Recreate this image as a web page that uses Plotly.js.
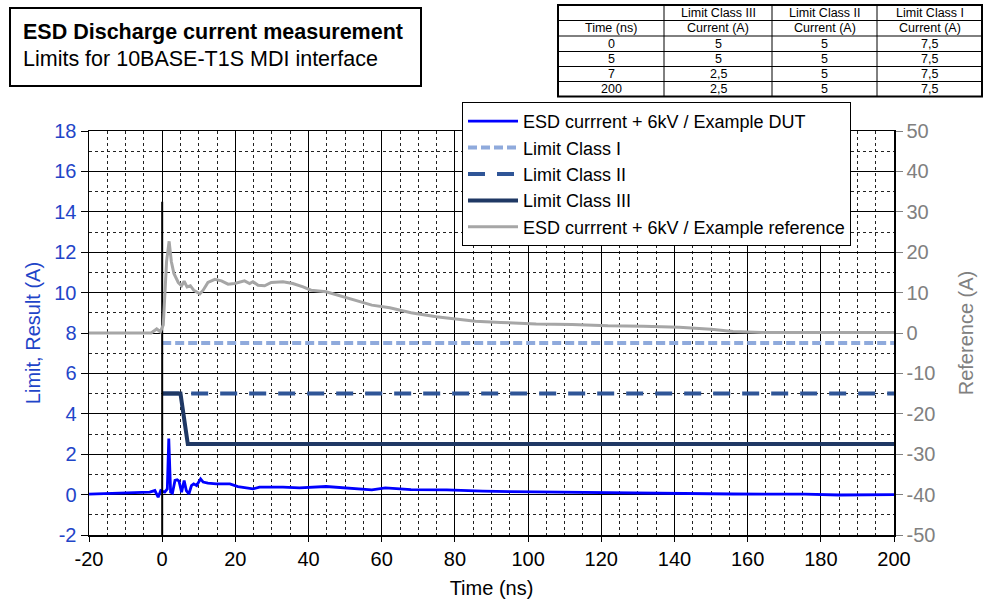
<!DOCTYPE html>
<html>
<head>
<meta charset="utf-8">
<script src="https://cdn.plot.ly/plotly-3.0.1.min.js"></script>
<style>html,body{margin:0;padding:0;background:#fff;}#chart{width:985px;height:609px;}</style>
</head>
<body>
<div id="chart"></div>
<script>
// ---- Data ----
const dutTime = [-20, -3.4, -2, -1.1, -0.4, 0.7, 1.4, 1.8, 2.3, 2.8, 3.5, 4.1, 4.6, 5.3, 6, 6.6, 7.3, 8, 8.6, 9.4, 10.5, 11.2, 12.5, 14.8, 18.5, 20.7, 24.8, 26.6, 33, 37.5, 44.8, 51.2, 57.3, 61, 68, 77.8, 87.6, 102, 117, 131.5, 146, 156, 175.5, 185, 200];
const dutCurrent = [0.02, 0.12, 0.2, -0.13, 0.2, 0.12, 0.28, 2.78, 0.12, 0.07, 0.7, 0.73, 0.67, 0.12, 0.7, 0.2, 0.03, 0.45, 0.53, 0.45, 0.78, 0.62, 0.57, 0.53, 0.53, 0.4, 0.28, 0.37, 0.37, 0.33, 0.4, 0.33, 0.23, 0.33, 0.25, 0.23, 0.17, 0.13, 0.1, 0.07, 0.05, 0.03, 0.02, -0.02, 0.0];

const refTime = [-20, -3, -1.5, -0.5, 0.3, 0.7, 1.2, 1.9, 2.5, 3.2, 4.4, 5.3, 6, 6.8, 7.7, 8.6, 10.3, 11.2, 12.5, 14.4, 16.2, 18, 19.8, 22.5, 23.9, 24.8, 26.2, 28, 29.8, 33, 35.7, 38.5, 40.7, 44.8, 47.5, 51.2, 57.3, 62.2, 68, 74.9, 81.7, 85.6, 92.5, 102.2, 112, 121.8, 131.5, 141.3, 150, 156, 163.8, 175.5, 200];
const refCurrent = [0, 0, 1, 0.3, 2, 9.3, 17.7, 22.7, 17.7, 14.75, 12.5, 11.7, 12.8, 11.4, 11.7, 10.6, 9.7, 10.6, 12.5, 13.3, 12.9, 12.1, 12.25, 12.9, 12.25, 12.7, 11.8, 11.7, 12.5, 12.7, 12.25, 11.4, 10.6, 10.2, 9.5, 8.5, 6.9, 6.25, 5, 4, 3.3, 2.9, 2.6, 2.25, 2.1, 1.8, 1.7, 1.4, 0.9, 0.4, 0.15, 0.1, 0.15];

const limitTime = [0, 5, 7, 200];
const limitClassIII = [5, 5, 2.5, 2.5];
const limitClassII = [5, 5, 5, 5];
const limitClassI = [7.5, 7.5, 7.5, 7.5];

const markerTime = [0, 0];
const markerCurrent = [-2, 14.5];

const xTickVals = [-20, 0, 20, 40, 60, 80, 100, 120, 140, 160, 180, 200];
const xTickText = ["-20", "0", "20", "40", "60", "80", "100", "120", "140", "160", "180", "200"];
const yTickVals = [-2, 0, 2, 4, 6, 8, 10, 12, 14, 16, 18];
const yTickText = ["-2", "0", "2", "4", "6", "8", "10", "12", "14", "16", "18"];
const y2TickVals = [-50, -40, -30, -20, -10, 0, 10, 20, 30, 40, 50];
const y2TickText = ["-50", "-40", "-30", "-20", "-10", "0", "10", "20", "30", "40", "50"];

const tableHeader1 = ["", "Limit Class III", "Limit Class II", "Limit Class I"];
const tableHeader2 = ["Time (ns)", "Current (A)", "Current (A)", "Current (A)"];
const tableRows = [["0", "5", "5", "7,5"], ["5", "5", "5", "7,5"], ["7", "2,5", "5", "7,5"], ["200", "2,5", "5", "7,5"]];

const seriesNames = ["ESD currrent + 6kV / Example DUT", "Limit Class I", "Limit Class II", "Limit Class III", "ESD currrent + 6kV / Example reference"];

// ---- Geometry helpers (pixel -> paper) ----
const L = 89, R = 894, T = 131, B = 535;
const xp = px => (px - L) / (R - L);
const yp = py => (B - py) / (B - T);

const FONT = "Liberation Sans, Arial, sans-serif";
const BLUE_TXT = "#1F45C8";
const GRAY_TXT = "#808080";

const traces = [
  {x: dutTime, y: dutCurrent, name: seriesNames[0], mode: "lines", line: {color: "#0000FF", width: 2.8}, yaxis: "y"},
  {x: limitTime, y: limitClassI, name: seriesNames[1], mode: "lines", line: {color: "#8FAADC", width: 4, dash: "9px,4px"}, yaxis: "y"},
  {x: limitTime, y: limitClassII, name: seriesNames[2], mode: "lines", line: {color: "#2F5597", width: 4, dash: "17px,12px"}, yaxis: "y"},
  {x: limitTime, y: limitClassIII, name: seriesNames[3], mode: "lines", line: {color: "#1F3864", width: 4}, yaxis: "y"},
  {x: refTime, y: refCurrent, name: seriesNames[4], mode: "lines", line: {color: "#A6A6A6", width: 3}, yaxis: "y2"},
  {x: markerTime, y: markerCurrent, mode: "lines", line: {color: "#000000", width: 2}, showlegend: false, yaxis: "y", hoverinfo: "skip"}
];

// ---- Shapes & annotations: title box and table ----
const shapes = [];
const annotations = [];

shapes.push({type: "rect", xref: "paper", yref: "paper", x0: xp(10), x1: xp(421), y0: yp(8), y1: yp(86), line: {color: "#000", width: 2}, fillcolor: "rgba(0,0,0,0)"});
annotations.push({xref: "paper", yref: "paper", x: xp(21), y: yp(32), xanchor: "left", yanchor: "middle", showarrow: false, text: "<b>ESD Discharge current measurement</b>", font: {family: FONT, size: 21.5, color: "#000"}});
annotations.push({xref: "paper", yref: "paper", x: xp(21), y: yp(59), xanchor: "left", yanchor: "middle", showarrow: false, text: "Limits for 10BASE-T1S MDI interface", font: {family: FONT, size: 21.5, color: "#000"}});

const colX = [558, 664, 772, 877, 982];
const rowY = [5, 20.5, 36, 51.5, 66.5, 81.5, 96.5];
shapes.push({type: "rect", xref: "paper", yref: "paper", x0: xp(colX[0]), x1: xp(colX[4]), y0: yp(rowY[0]), y1: yp(rowY[6]), line: {color: "#000", width: 2}});
for (let i = 1; i < colX.length - 1; i++) {
  shapes.push({type: "line", xref: "paper", yref: "paper", x0: xp(colX[i]), x1: xp(colX[i]), y0: yp(rowY[0]), y1: yp(rowY[6]), line: {color: "#000", width: 1}});
}
for (let j = 1; j < rowY.length - 1; j++) {
  shapes.push({type: "line", xref: "paper", yref: "paper", x0: xp(colX[0]), x1: xp(colX[4]), y0: yp(rowY[j]), y1: yp(rowY[j]), line: {color: "#000", width: 1}});
}
const allRows = [tableHeader1, tableHeader2].concat(tableRows);
allRows.forEach((row, j) => {
  row.forEach((txt, i) => {
    if (!txt) return;
    annotations.push({xref: "paper", yref: "paper", x: xp((colX[i] + colX[i + 1]) / 2), y: yp((rowY[j] + rowY[j + 1]) / 2), xanchor: "center", yanchor: "middle", showarrow: false, text: txt, font: {family: FONT, size: 12.5, color: "#000"}});
  });
});

const layout = {
  width: 985, height: 609,
  margin: {l: L, r: 985 - R, t: T, b: 609 - B},
  paper_bgcolor: "#fff", plot_bgcolor: "#fff",
  font: {family: FONT, size: 18, color: "#000"},
  showlegend: true,
  legend: {x: xp(462), y: yp(102), xanchor: "left", yanchor: "top", bgcolor: "#fff", bordercolor: "#000", borderwidth: 1, itemwidth: 50, font: {family: FONT, size: 18, color: "#000"}, traceorder: "normal", tracegroupgap: 0},
  xaxis: {
    range: [-20, 200], tickmode: "array", tickvals: xTickVals, ticktext: xTickText,
    showgrid: true, gridcolor: "#000", gridwidth: 1,
    minor: {tick0: 0, dtick: 5, showgrid: true, gridcolor: "#222", griddash: "dot", gridwidth: 1},
    zeroline: false, showline: true, linecolor: "#000", linewidth: 1.5, mirror: true,
    ticks: "outside", ticklen: 5, tickcolor: "#000",
    tickfont: {family: FONT, size: 20, color: "#000"},
    title: {text: "Time (ns)", font: {family: FONT, size: 20, color: "#000"}, standoff: 12}
  },
  yaxis: {
    range: [-2, 18], tickmode: "array", tickvals: yTickVals, ticktext: yTickText,
    showgrid: true, gridcolor: "#000", gridwidth: 1,
    minor: {tick0: 0, dtick: 1, showgrid: true, gridcolor: "#222", griddash: "dot", gridwidth: 1},
    zeroline: false, showline: true, linecolor: "#000", linewidth: 1.5,
    ticks: "outside", ticklen: 7, tickcolor: "#000",
    tickfont: {family: FONT, size: 20, color: BLUE_TXT},
    title: {text: "Limit, Result (A)", font: {family: FONT, size: 20, color: BLUE_TXT}, standoff: 8}
  },
  yaxis2: {
    range: [-50, 50], tickmode: "array", tickvals: y2TickVals, ticktext: y2TickText,
    overlaying: "y", side: "right",
    showgrid: false, zeroline: false, showline: true, linecolor: "#000", linewidth: 1.5,
    ticks: "outside", ticklen: 7, tickcolor: GRAY_TXT,
    tickfont: {family: FONT, size: 20, color: GRAY_TXT},
    title: {text: "Reference (A)", font: {family: FONT, size: 20, color: GRAY_TXT}, standoff: 24}
  },
  shapes: shapes,
  annotations: annotations
};

Plotly.newPlot("chart", traces, layout, {displayModeBar: false, staticPlot: true});
</script>
</body>
</html>
